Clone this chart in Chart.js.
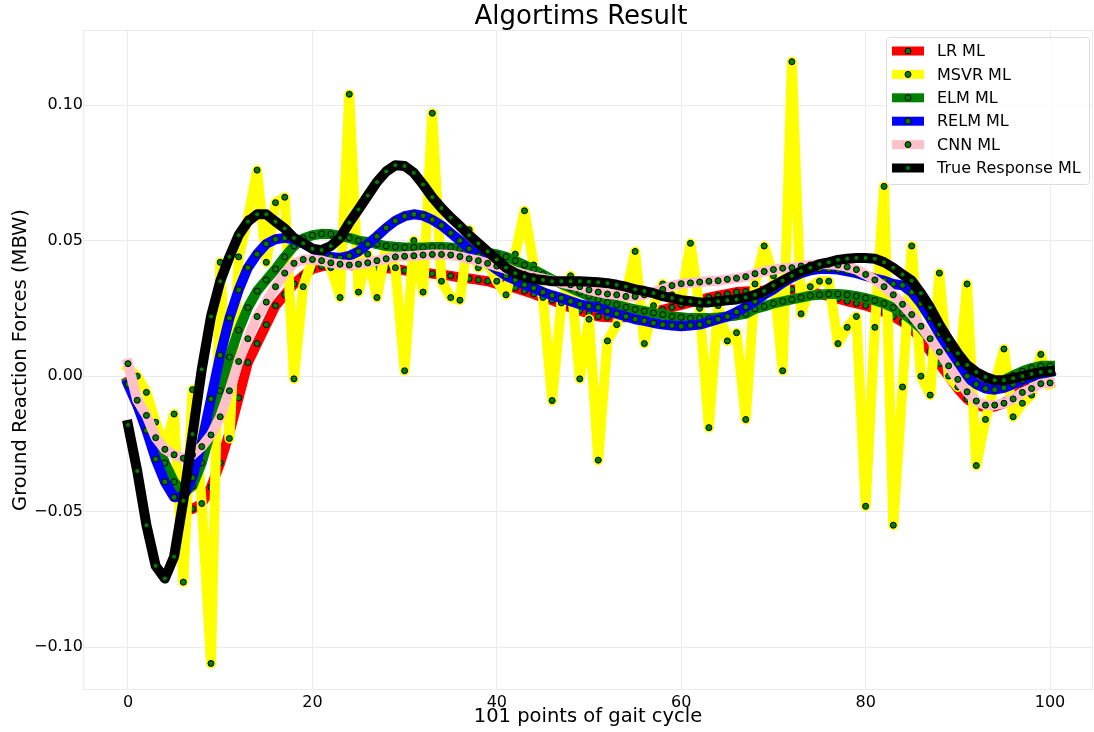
<!DOCTYPE html>
<html>
<head>
<meta charset="utf-8">
<script src="https://cdn.jsdelivr.net/npm/chart.js@4.4.1/dist/chart.umd.min.js"></script>
<style>
  html, body { margin: 0; padding: 0; background: #fff; }
</style>
</head>
<body>
<canvas id="gaitChart" width="1094" height="732"></canvas>
<script>
// x positions: 101 points of the gait cycle
const gaitPoints = Array.from({ length: 101 }, (_, i) => i);

const lrValues = [
  -0.002, -0.009, -0.016, -0.024, -0.032, -0.040, -0.0475, -0.049, -0.047, -0.041,
  -0.032, -0.021, -0.008, 0.005, 0.012, 0.019, 0.026, 0.030, 0.034, 0.037,
  0.0395, 0.0405, 0.041, 0.041, 0.041, 0.0405, 0.040, 0.040, 0.0398, 0.0395,
  0.039, 0.0386, 0.0383, 0.0378, 0.0375, 0.037, 0.0364, 0.036, 0.0355, 0.035,
  0.034, 0.0334, 0.0325, 0.0314, 0.0303, 0.029, 0.028, 0.0265, 0.0253, 0.0242,
  0.023, 0.022, 0.0217, 0.0216, 0.0217, 0.022, 0.023, 0.0237, 0.0245, 0.0254,
  0.0263, 0.0272, 0.028, 0.029, 0.0297, 0.0303, 0.031, 0.0312, 0.0314, 0.0316,
  0.032, 0.032, 0.032, 0.0318, 0.0312, 0.0303, 0.0295, 0.0286, 0.0276, 0.0268,
  0.026, 0.0248, 0.0237, 0.022, 0.020, 0.0176, 0.0138, 0.0092, 0.0046, 0.000,
  -0.0046, -0.0084, -0.0107, -0.0115, -0.0112, -0.010, -0.0077, -0.005, -0.0023, 0.000,
  0.0015
];

const msvrValues = [
  0.003, 0.000, -0.006, -0.017, -0.027, -0.014, -0.076, -0.005, -0.047, -0.106,
  0.042, -0.023, 0.044, 0.058, 0.076, 0.042, 0.064, 0.066, -0.001, 0.033,
  0.043, 0.046, 0.040, 0.029, 0.104, 0.031, 0.045, 0.029, 0.048, 0.040,
  0.002, 0.050, 0.031, 0.097, 0.035, 0.029, 0.028, 0.054, 0.040, 0.042,
  0.035, 0.030, 0.045, 0.061, 0.041, 0.029, -0.009, 0.027, 0.037, -0.001,
  0.021, -0.031, 0.013, 0.019, 0.030, 0.046, 0.012, 0.026, 0.034, 0.030,
  0.028, 0.049, 0.025, -0.019, 0.026, 0.013, 0.016, -0.016, 0.034, 0.048,
  0.037, 0.002, 0.116, 0.023, 0.033, 0.035, 0.035, 0.012, 0.018, 0.022,
  -0.048, 0.018, 0.070, -0.055, -0.004, 0.048, 0.000, -0.007, 0.038, 0.000,
  -0.004, 0.034, -0.033, -0.016, -0.003, 0.010, -0.015, -0.010, -0.007, 0.008,
  -0.003
];

const elmValues = [
  -0.0023, -0.009, -0.016, -0.0237, -0.032, -0.039, -0.043, -0.0405, -0.032, -0.020,
  -0.0054, 0.007, 0.017, 0.0253, 0.0314, 0.0355, 0.0395, 0.044, 0.048, 0.0508,
  0.052, 0.0525, 0.0524, 0.0517, 0.051, 0.050, 0.0495, 0.0487, 0.048, 0.0477,
  0.0475, 0.0475, 0.0475, 0.0476, 0.0476, 0.0475, 0.047, 0.0467, 0.046, 0.0456,
  0.0449, 0.044, 0.0426, 0.041, 0.0393, 0.0375, 0.0357, 0.034, 0.0325, 0.031,
  0.0295, 0.0283, 0.0272, 0.0263, 0.0254, 0.0246, 0.024, 0.0233, 0.0227, 0.022,
  0.0217, 0.0214, 0.0214, 0.0214, 0.0216, 0.022, 0.0224, 0.023, 0.0248, 0.0257,
  0.0268, 0.0276, 0.0283, 0.029, 0.0297, 0.030, 0.0303, 0.0303, 0.030, 0.0295,
  0.0288, 0.0279, 0.0268, 0.0253, 0.0232, 0.0207, 0.0176, 0.0138, 0.010, 0.006,
  0.0023, -0.0008, -0.0028, -0.0034, -0.003, -0.0015, 0.0003, 0.0018, 0.003, 0.0038,
  0.0038
];

const relmValues = [
  -0.003, -0.0107, -0.020, -0.0306, -0.039, -0.0447, -0.0444, -0.0375, -0.0245, -0.0084,
  0.0077, 0.0214, 0.0318, 0.040, 0.045, 0.0488, 0.0505, 0.051, 0.0505, 0.049,
  0.047, 0.045, 0.044, 0.0436, 0.0444, 0.046, 0.0487, 0.0516, 0.0547, 0.0573,
  0.059, 0.0597, 0.0592, 0.0577, 0.0556, 0.0528, 0.050, 0.047, 0.0444, 0.0418,
  0.0393, 0.037, 0.0355, 0.0337, 0.0325, 0.031, 0.0298, 0.0288, 0.0276, 0.0265,
  0.0258, 0.0253, 0.024, 0.023, 0.022, 0.021, 0.0204, 0.0196, 0.019, 0.0187,
  0.0184, 0.0187, 0.019, 0.020, 0.021, 0.022, 0.0237, 0.0255, 0.0276, 0.030,
  0.032, 0.0344, 0.0364, 0.038, 0.039, 0.0395, 0.0395, 0.0393, 0.0387, 0.038,
  0.037, 0.036, 0.0352, 0.034, 0.0335, 0.031, 0.0268, 0.0214, 0.0156, 0.010,
  0.0046, 0.000, -0.003, -0.0046, -0.005, -0.0043, -0.003, -0.0015, -0.0003, 0.0008,
  0.0015
];

const cnnValues = [
  0.0046, -0.0089, -0.0145, -0.0227, -0.027, -0.029, -0.0303, -0.029, -0.026, -0.0217,
  -0.015, -0.0054, 0.0054, 0.0138, 0.022, 0.0273, 0.033, 0.038, 0.0416, 0.043,
  0.043, 0.0426, 0.0418, 0.0413, 0.041, 0.0413, 0.0418, 0.0426, 0.0433, 0.044,
  0.0442, 0.0444, 0.0447, 0.0449, 0.0449, 0.0447, 0.0441, 0.0433, 0.0426, 0.0416,
  0.0406, 0.0395, 0.0386, 0.0375, 0.0367, 0.036, 0.0352, 0.0344, 0.0337, 0.033,
  0.0318, 0.031, 0.0303, 0.030, 0.0294, 0.0294, 0.030, 0.031, 0.032, 0.0334,
  0.0341, 0.0344, 0.0347, 0.035, 0.0352, 0.0357, 0.0361, 0.0367, 0.0378, 0.0386,
  0.0393, 0.0398, 0.040, 0.0406, 0.041, 0.0413, 0.0413, 0.041, 0.0403, 0.0393,
  0.0375, 0.0355, 0.033, 0.030, 0.0265, 0.0227, 0.0184, 0.0138, 0.0089, 0.0038,
  -0.0012, -0.0058, -0.0092, -0.0107, -0.0107, -0.010, -0.0084, -0.006, -0.0046, -0.0028,
  -0.0025
];

const trueValues = [
  -0.018, -0.035, -0.055, -0.070, -0.0747, -0.0666, -0.046, -0.0214, 0.0025, 0.022,
  0.035, 0.044, 0.052, 0.057, 0.0597, 0.0597, 0.057, 0.0545, 0.051, 0.049,
  0.047, 0.0465, 0.048, 0.051, 0.0566, 0.0615, 0.0666, 0.0716, 0.0755, 0.0778,
  0.0775, 0.075, 0.0707, 0.066, 0.062, 0.0585, 0.0554, 0.052, 0.049, 0.046,
  0.043, 0.040, 0.038, 0.0367, 0.0358, 0.0355, 0.035, 0.035, 0.035, 0.035,
  0.0348, 0.0346, 0.0343, 0.0337, 0.033, 0.032, 0.0314, 0.0306, 0.0295, 0.0288,
  0.028, 0.0276, 0.0272, 0.0272, 0.0276, 0.028, 0.0283, 0.029, 0.030, 0.0314,
  0.0334, 0.0352, 0.037, 0.0387, 0.040, 0.0413, 0.042, 0.0429, 0.0433, 0.0436,
  0.0436, 0.0433, 0.042, 0.040, 0.0375, 0.0352, 0.0306, 0.0253, 0.019, 0.0135,
  0.0084, 0.0041, 0.0015, -0.0003, -0.0015, -0.0015, -0.0008, 0.000, 0.0008, 0.0015,
  0.0018
];

const seriesNames = ['LR ML', 'MSVR ML', 'ELM ML', 'RELM ML', 'CNN ML', 'True Response ML'];
const xTickValues = [0, 20, 40, 60, 80, 100];
const yTickValues = [-0.10, -0.05, 0.00, 0.05, 0.10];

const FONT = "'DejaVu Sans', sans-serif";
const GRID = '#ebebeb';

function makeSet(label, values, color, order, radius) {
  return {
    label: label,
    data: values.map((v, i) => ({ x: gaitPoints[i], y: v })),
    borderColor: color,
    backgroundColor: color,
    borderWidth: 10,
    borderJoinStyle: 'round',
    borderCapStyle: 'square',
    tension: 0,
    pointRadius: radius,
    pointBackgroundColor: 'green',
    pointBorderColor: '#000',
    pointBorderWidth: 1,
    order: order
  };
}

const datasets = [
  makeSet(seriesNames[0], lrValues, 'red', 6, 3),
  makeSet(seriesNames[1], msvrValues, 'yellow', 5, 3),
  makeSet(seriesNames[2], elmValues, 'green', 4, 3),
  makeSet(seriesNames[3], relmValues, 'blue', 3, 3),
  makeSet(seriesNames[4], cnnValues, 'pink', 2, 3),
  makeSet(seriesNames[5], trueValues, 'black', 1, 2.5)
];

// stretch the plot area to the right edge (axes box ends 1px from canvas edge)
const stretchPlugin = {
  id: 'stretch',
  afterLayout(chart) {
    const x = chart.scales.x;
    const right = chart.width - 1;
    chart.chartArea.right = right;
    chart.chartArea.width = right - chart.chartArea.left;
    x.right = right;
    x.width = right - x.left;
    x.configure();
  }
};

// light grey frame around the plot area, like the axes box
const framePlugin = {
  id: 'frame',
  beforeDatasetsDraw(chart) {
    const { ctx, chartArea: a } = chart;
    ctx.save();
    ctx.strokeStyle = GRID;
    ctx.lineWidth = 1;
    ctx.strokeRect(a.left + 0.5, a.top + 0.5, a.right - a.left - 1, a.bottom - a.top - 1);
    ctx.restore();
  }
};

const titlePlugin = {
  id: 'plotTitle',
  afterDraw(chart) {
    const { ctx } = chart;
    ctx.save();
    ctx.font = '26px ' + FONT;
    ctx.fillStyle = '#000';
    ctx.textAlign = 'center';
    ctx.textBaseline = 'middle';
    ctx.fillText('Algortims Result', 581, 17);
    ctx.restore();
  }
};

// matplotlib-like legend box in the upper right
const legendPlugin = {
  id: 'boxLegend',
  afterDraw(chart) {
    const { ctx } = chart;
    const sets = chart.data.datasets;
    const bx = 886, by = 37, bw = 203, bh = 147;
    ctx.save();
    ctx.fillStyle = 'rgba(255,255,255,0.8)';
    ctx.strokeStyle = '#dcdcdc';
    ctx.lineWidth = 1;
    ctx.beginPath();
    ctx.roundRect(bx + 0.5, by + 0.5, bw, bh, 3);
    ctx.fill();
    ctx.stroke();
    ctx.font = '16px ' + FONT;
    ctx.textBaseline = 'middle';
    ctx.textAlign = 'left';
    sets.forEach((ds, i) => {
      const cy = 51 + i * 23.4;
      ctx.fillStyle = ds.borderColor;
      ctx.fillRect(892, cy - 4.5, 32, 9);
      ctx.beginPath();
      ctx.arc(908, cy, ds.pointRadius, 0, Math.PI * 2);
      ctx.fillStyle = 'green';
      ctx.fill();
      ctx.strokeStyle = '#000';
      ctx.stroke();
      ctx.fillStyle = '#000';
      ctx.fillText(ds.label, 937, cy + 1);
    });
    ctx.restore();
  }
};

function fmtTick(v) {
  const s = Math.abs(v).toFixed(2);
  return v < -1e-9 ? '\u2212' + s : s;
}

Chart.defaults.font.family = FONT;
Chart.defaults.color = '#000';

new Chart(document.getElementById('gaitChart'), {
  type: 'line',
  data: { datasets: datasets },
  options: {
    responsive: false,
    animation: false,
    layout: { padding: { top: 30, right: 1, left: 0, bottom: 0 } },
    plugins: {
      legend: { display: false },
      tooltip: { enabled: false },
      title: { display: false }
    },
    scales: {
      x: {
        type: 'linear',
        min: -4.88,
        max: 104.66,
        afterBuildTicks: s => { s.ticks = xTickValues.map(v => ({ value: v })); },
        afterFit: s => { s.height = 42; },
        grid: { color: GRID, drawTicks: false },
        border: { display: false },
        ticks: { font: { size: 16 }, padding: 3, maxRotation: 0, callback: v => String(v) },
        title: {
          display: true,
          text: '101 points of gait cycle',
          font: { size: 19.5 },
          padding: { top: 0, bottom: 3 }
        }
      },
      y: {
        type: 'linear',
        min: -0.1158,
        max: 0.1277,
        afterBuildTicks: s => { s.ticks = yTickValues.map(v => ({ value: v })); },
        afterFit: s => { s.width = 83; },
        grid: { color: GRID, drawTicks: false },
        border: { display: false },
        ticks: { font: { size: 16 }, padding: 0, callback: v => fmtTick(v) },
        title: {
          display: true,
          text: 'Ground Reaction Forces (MBW)',
          font: { size: 19.5 },
          padding: { top: 9, bottom: 0 }
        }
      }
    }
  },
  plugins: [stretchPlugin, framePlugin, titlePlugin, legendPlugin]
});
</script>
</body>
</html>
